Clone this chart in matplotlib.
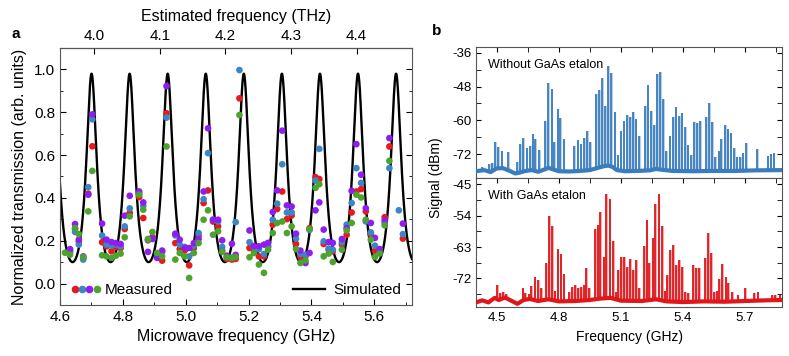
import numpy as np
import matplotlib
matplotlib.use("Agg")
import matplotlib.pyplot as plt
from matplotlib.lines import Line2D
from matplotlib.legend_handler import HandlerTuple
from matplotlib.ticker import MultipleLocator

plt.rcParams['font.family'] = ['Liberation Sans', 'DejaVu Sans']
plt.rcParams['axes.unicode_minus'] = False

# --- panel a: measured transmission (one column per comb line) ---
nan = np.nan
meas_freq = [4.616, 4.632, 4.648, 4.660, 4.674, 4.690, 4.703, 4.734, 4.748, 4.764,
             4.778, 4.793, 4.806, 4.822, 4.852, 4.865, 4.880, 4.894, 4.909, 4.925,
             4.939, 4.967, 4.981, 4.997, 5.011, 5.026, 5.041, 5.057, 5.071, 5.087,
             5.103, 5.116, 5.131, 5.147, 5.159, 5.171, 5.203, 5.217, 5.233, 5.249,
             5.262, 5.277, 5.291, 5.307, 5.322, 5.337, 5.351, 5.365, 5.381, 5.394,
             5.413, 5.425, 5.439, 5.455, 5.468, 5.497, 5.512, 5.528, 5.543, 5.558,
             5.573, 5.589, 5.602, 5.617, 5.633, 5.648, 5.678, 5.691]
meas_red = [nan, 0.148, 0.255, 0.197, 0.120, 0.420, 0.641, 0.193, 0.174, 0.151,
            0.171, 0.166, 0.255, 0.330, 0.404, 0.306, 0.202, 0.217, 0.135, 0.107,
            0.795, 0.189, 0.161, 0.155, 0.085, 0.166, 0.224, 0.376, 0.435, 0.290,
            0.267, 0.155, 0.115, 0.112, 0.115, 0.865, 0.166, 0.160, 0.127, 0.127,
            0.171, 0.275, 0.348, 0.430, 0.301, 0.318, 0.185, 0.124, 0.127, 0.259,
            0.497, 0.488, 0.185, 0.158, 0.151, 0.182, 0.228, 0.332, 0.430, 0.441,
            0.337, 0.230, 0.154, 0.151, 0.310, 0.640, nan, 0.210]
meas_blue = [nan, 0.155, 0.241, 0.182, 0.112, 0.450, 0.767, 0.224, 0.182, 0.177,
             0.182, 0.174, 0.267, 0.351, 0.422, 0.363, 0.205, 0.208, 0.124, 0.148,
             0.775, 0.225, 0.182, 0.171, 0.127, 0.177, 0.236, 0.394, 0.609, 0.298,
             0.290, 0.171, 0.124, 0.120, 0.287, 0.997, 0.193, 0.170, 0.160, 0.138,
             0.177, 0.298, 0.373, 0.557, 0.332, 0.332, 0.210, 0.138, 0.135, 0.250,
             0.481, 0.629, 0.197, 0.163, 0.158, 0.193, 0.275, 0.376, 0.539, 0.470,
             0.290, 0.239, 0.177, 0.158, 0.283, 0.539, 0.342, 0.231]
meas_purple = [nan, 0.161, 0.278, 0.205, 0.127, 0.415, 0.790, 0.280, 0.205, 0.194,
               0.189, 0.185, 0.317, 0.410, 0.430, 0.379, 0.148, 0.210, 0.120, 0.154,
               0.922, 0.233, 0.205, 0.166, 0.166, 0.189, 0.208, 0.430, 0.725, 0.298,
               0.298, 0.202, 0.130, 0.186, 0.134, nan, 0.248, 0.175, 0.174, 0.182,
               0.190, 0.334, 0.435, 0.714, 0.365, 0.360, 0.233, 0.154, 0.096, 0.143,
               0.342, 0.379, 0.252, 0.194, 0.190, 0.208, 0.259, 0.433, 0.651, 0.508,
               0.352, 0.283, 0.213, 0.161, 0.295, 0.679, nan, 0.280]
meas_green = [0.144, 0.135, 0.259, 0.231, 0.124, 0.337, 0.526, 0.132, 0.127, 0.120,
              0.130, 0.140, 0.216, 0.314, 0.415, 0.345, 0.208, 0.241, 0.143, 0.127,
              0.640, 0.112, 0.143, 0.127, 0.026, 0.143, 0.189, 0.298, 0.342, 0.228,
              0.244, 0.148, 0.123, 0.120, 0.124, 0.787, 0.123, 0.143, 0.089, 0.050,
              0.158, 0.236, 0.283, 0.290, 0.236, 0.267, 0.161, 0.096, 0.108, 0.255,
              0.447, 0.464, 0.127, 0.140, 0.101, 0.158, 0.248, 0.283, 0.415, 0.402,
              0.298, 0.205, 0.124, 0.140, 0.272, 0.573, nan, nan]

# simulated etalon transmission parameters
sim_peak0 = 4.7005   # GHz, first transmission maximum
sim_fsr = 0.1211     # GHz
sim_amp = 1.173
sim_offset = -0.193
sim_coef = 3.0

# top axis: microwave GHz -> estimated THz
thz_ref_ghz, thz_ref, thz_slope = 4.709, 4.0, 0.4792

# --- panel b: comb spectra (line frequency, peak level in dBm) ---
blue_spike_f = [4.430, 4.462, 4.477, 4.492, 4.508, 4.524, 4.555, 4.599, 4.614, 4.629,
                4.645, 4.660, 4.674, 4.687, 4.705, 4.733, 4.749, 4.765, 4.778, 4.795,
                4.808, 4.824, 4.875, 4.891, 4.905, 4.921, 4.936, 4.950, 4.979, 4.994,
                5.008, 5.024, 5.037, 5.054, 5.070, 5.085, 5.099, 5.114, 5.129, 5.145,
                5.159, 5.172, 5.187, 5.216, 5.230, 5.245, 5.259, 5.274, 5.288, 5.304,
                5.319, 5.336, 5.351, 5.365, 5.380, 5.394, 5.409, 5.423, 5.439, 5.454,
                5.468, 5.483, 5.512, 5.526, 5.541, 5.557, 5.572, 5.586, 5.603, 5.616,
                5.630, 5.646, 5.660, 5.675, 5.689, 5.705, 5.757, 5.809, 5.824, 5.838]
blue_spike_db = [-76.5, -75.3, -75.0, -67.5, -69.3, -70.7, -71.2, -74.6, -68.3, -66.3,
                 -69.6, -69.0, -64.9, -66.5, -70.4, -60.2, -46.6, -49.0, -67.5, -56.0,
                 -59.2, -66.7, -68.9, -66.9, -68.3, -66.1, -63.7, -67.7, -50.7, -49.2,
                 -45.0, -54.9, -40.6, -43.3, -56.9, -72.2, -63.7, -60.1, -58.2, -58.9,
                 -56.9, -59.6, -65.5, -54.9, -47.4, -56.6, -61.6, -43.5, -42.9, -52.5,
                 -70.8, -65.5, -58.9, -55.3, -58.4, -57.5, -62.4, -68.7, -72.2, -60.6,
                 -60.8, -60.2, -58.9, -53.7, -60.4, -72.8, -71.0, -66.5, -61.6, -63.0,
                 -64.5, -69.8, -73.0, -73.0, -71.4, -67.9, -70.1, -72.5, -72.0, -71.4]
blue_base_f = [4.40, 4.44, 4.47, 4.50, 4.53, 4.56, 4.59, 4.61, 4.64, 4.67, 4.70, 4.73,
               4.75, 4.77, 4.80, 4.85, 4.90, 4.95, 4.98, 5.00, 5.02, 5.04, 5.06, 5.08,
               5.12, 5.18, 5.24, 5.27, 5.30, 5.35, 5.45, 5.55, 5.65, 5.75, 5.88]
blue_base_db = [-78.0, -77.6, -78.3, -77.0, -76.9, -77.8, -78.8, -78.5, -77.9, -77.6,
                -78.2, -77.4, -76.8, -77.3, -78.0, -78.1, -77.9, -77.6, -77.0, -76.6,
                -76.2, -76.0, -76.5, -77.6, -78.0, -77.9, -77.7, -77.2, -77.5, -77.9,
                -78.0, -77.9, -77.9, -77.7, -77.6]

red_spike_f = [4.502, 4.516, 4.531, 4.545, 4.626, 4.639, 4.654, 4.668, 4.683, 4.699,
               4.713, 4.739, 4.752, 4.768, 4.780, 4.794, 4.809, 4.823, 4.849, 4.865,
               4.880, 4.894, 4.909, 4.922, 4.933, 4.948, 4.974, 4.988, 5.001, 5.017,
               5.030, 5.046, 5.061, 5.077, 5.088, 5.103, 5.117, 5.130, 5.145, 5.159,
               5.175, 5.188, 5.211, 5.224, 5.238, 5.253, 5.267, 5.283, 5.298, 5.312,
               5.324, 5.337, 5.353, 5.367, 5.382, 5.396, 5.411, 5.424, 5.450, 5.463,
               5.478, 5.507, 5.520, 5.536, 5.552, 5.563, 5.576, 5.591, 5.606, 5.620,
               5.636, 5.664, 5.701, 5.745, 5.761, 5.830, 5.846, 5.867]
red_spike_db = [-73.9, -76.2, -75.9, -76.5, -74.9, -76.3, -76.6, -74.2, -71.6, -72.5,
                -74.9, -67.5, -54.1, -57.0, -75.5, -63.7, -65.1, -70.8, -76.0, -74.4,
                -74.0, -74.9, -74.6, -73.8, -68.9, -74.9, -57.9, -56.7, -52.9, -65.8,
                -47.8, -49.3, -61.2, -76.0, -69.6, -66.0, -66.0, -68.8, -66.3, -69.6,
                -66.6, -74.9, -62.7, -55.1, -67.7, -60.5, -50.7, -47.9, -56.9, -75.5,
                -70.9, -63.9, -62.5, -68.2, -66.6, -68.7, -76.0, -76.2, -68.2, -68.9,
                -69.0, -66.1, -58.9, -64.7, -76.0, -75.5, -72.3, -68.0, -71.6, -73.3,
                -76.0, -76.8, -74.9, -76.3, -75.8, -76.9, -76.9, -76.9]
red_base_f = [4.40, 4.43, 4.46, 4.49, 4.51, 4.54, 4.57, 4.60, 4.63, 4.66, 4.70, 4.75,
              4.80, 4.88, 4.95, 5.00, 5.05, 5.10, 5.20, 5.27, 5.32, 5.40, 5.50, 5.60,
              5.70, 5.80, 5.88]
red_base_db = [-78.9, -78.3, -78.9, -77.6, -78.2, -77.5, -78.4, -79.3, -78.2, -77.9,
               -78.5, -78.0, -78.6, -78.5, -78.2, -77.8, -77.6, -78.4, -78.5, -78.0,
               -78.6, -78.8, -78.6, -78.7, -78.5, -78.3, -78.2]

c_red, c_blue, c_purple, c_green = '#e8191c', '#3a87c5', '#8f1cf0', '#4ca32d'
c_trace_blue, c_trace_red = '#3a7dbf', '#e0161a'

fig = plt.figure(figsize=(7.89, 3.56), dpi=100)

# ---------------- panel a ----------------
ax = fig.add_axes([0.0760, 0.1433, 0.4462, 0.7219])
f_sim = np.linspace(4.6, 5.72, 3000)
t_sim = sim_offset + sim_amp / (1 + sim_coef * np.sin(np.pi * (f_sim - sim_peak0) / sim_fsr) ** 2)
ax.plot(f_sim, t_sim, color='black', lw=1.7, zorder=2)

for vals, col in [(meas_red, c_red), (meas_blue, c_blue),
                  (meas_purple, c_purple), (meas_green, c_green)]:
    ax.scatter(meas_freq, vals, s=23, color=col, edgecolors='none', zorder=3)

ax.set_xlim(4.6, 5.72)
ax.set_ylim(-0.1, 1.1)
ax.xaxis.set_major_locator(MultipleLocator(0.2))
ax.xaxis.set_minor_locator(MultipleLocator(0.1))
ax.yaxis.set_minor_locator(MultipleLocator(0.1))
ax.set_yticks([0.0, 0.2, 0.4, 0.6, 0.8, 1.0])
ax.tick_params(which='both', direction='in', right=True, labelsize=11)
ax.tick_params(which='major', length=4)
ax.tick_params(which='minor', length=2.5)
ax.set_xlabel('Microwave frequency (GHz)', fontsize=11.5, labelpad=4)
ax.set_ylabel('Normalized transmission (arb. units)', fontsize=11.5, labelpad=5)
for s in ax.spines.values():
    s.set_color('#555555')

top = ax.secondary_xaxis('top', functions=(
    lambda f: thz_ref + thz_slope * (f - thz_ref_ghz),
    lambda t: thz_ref_ghz + (t - thz_ref) / thz_slope))
top.set_xticks([4.0, 4.1, 4.2, 4.3, 4.4])
top.tick_params(direction='in', length=4, labelsize=11)
top.set_xlabel('Estimated frequency (THz)', fontsize=11.5, labelpad=6)

dots = tuple(Line2D([], [], ls='none', marker='o', ms=5.5, mec='none', mfc=c)
             for c in (c_red, c_blue, c_purple, c_green))
leg1 = ax.legend([dots], ['Measured'], handler_map={tuple: HandlerTuple(ndivide=None, pad=0)},
                 loc='lower left', frameon=False, fontsize=11, handlelength=1.9,
                 handletextpad=0.3, borderaxespad=0.1, bbox_to_anchor=(0.01, 0.0))
ax.add_artist(leg1)
ax.legend([Line2D([], [], color='black', lw=1.7)], ['Simulated'], loc='lower right',
          frameon=False, fontsize=11, handlelength=2.1, handletextpad=0.5,
          borderaxespad=0.1, bbox_to_anchor=(0.99, 0.0))

fig.text(0.014, 0.905, 'a', fontsize=11, fontweight='bold', va='center')

# ---------------- panel b ----------------
axb1 = fig.add_axes([0.6033, 0.5008, 0.3882, 0.3680])
axb2 = fig.add_axes([0.6033, 0.1368, 0.3882, 0.3640], sharex=axb1)

for a, sf, sd, bf, bd, col, ylim, mnr, ticks, txt in [
        (axb1, blue_spike_f, blue_spike_db, blue_base_f, blue_base_db, c_trace_blue,
         (-80.3, -33.9), 6, [-36, -48, -60, -72], 'Without GaAs etalon'),
        (axb2, red_spike_f, red_spike_db, red_base_f, red_base_db, c_trace_red,
         (-80.3, -43.1), 4.5, [-45, -54, -63, -72], 'With GaAs etalon')]:
    a.vlines(sf, -85, sd, color=col, lw=1.3, zorder=1)
    a.vlines(np.array(sf) + 0.0035, -85, sd, color=col, lw=1.5, alpha=0.35, zorder=1)
    a.fill_between(bf, bd, -90, color='white', zorder=2, lw=0)
    a.plot(bf, bd, color=col, lw=3.0, zorder=3)
    a.set_ylim(*ylim)
    a.set_yticks(ticks)
    a.yaxis.set_minor_locator(MultipleLocator(mnr))
    a.tick_params(which='both', direction='in', top=True, right=True, labelsize=9.5)
    a.tick_params(which='both', length=3.5)
    a.text(0.04, 0.86, txt, transform=a.transAxes, fontsize=9, va='center')
    for s in a.spines.values():
        s.set_color('#555555')

axb1.set_xlim(4.4, 5.88)
axb1.set_xticks([4.5, 4.8, 5.1, 5.4, 5.7])
axb1.xaxis.set_minor_locator(MultipleLocator(0.15))
axb1.tick_params(labelbottom=False)
axb2.set_xlabel('Frequency (GHz)', fontsize=10, labelpad=4)
fig.text(0.553, 0.5, 'Signal (dBm)', rotation=90, fontsize=10, va='center', ha='center')
fig.text(0.548, 0.912, 'b', fontsize=11, fontweight='bold', va='center')

fig.savefig('out.png', dpi=100)
